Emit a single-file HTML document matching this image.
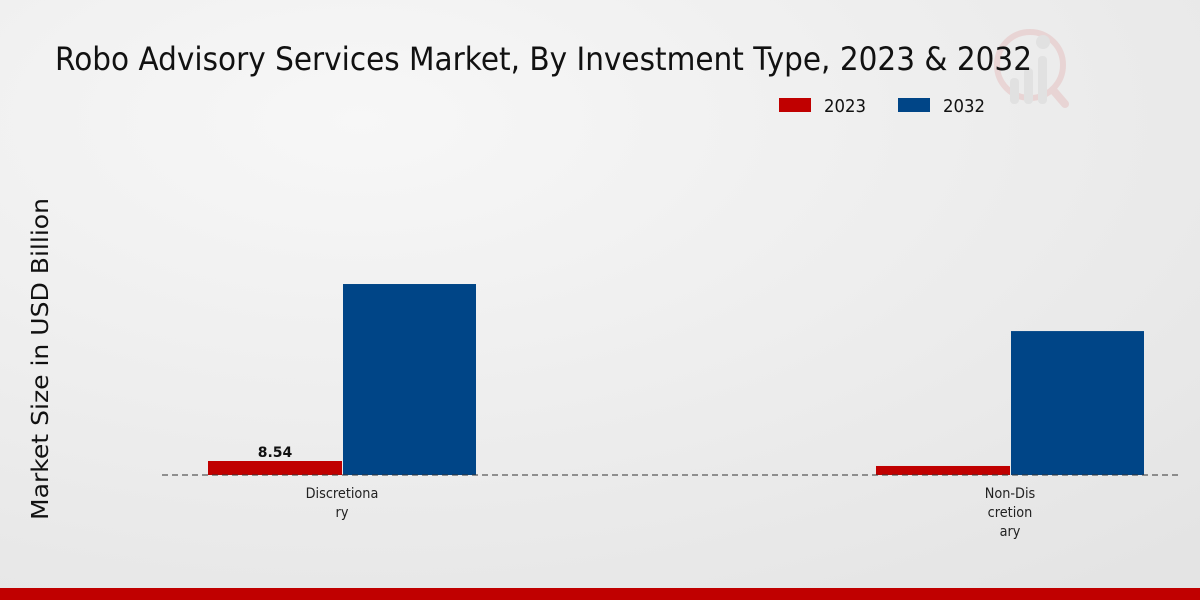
<!DOCTYPE html>
<html><head><meta charset="utf-8"><style>
html,body{margin:0;padding:0;width:1200px;height:600px;overflow:hidden}
svg{display:block;font-family:"DejaVu Sans","Liberation Sans",sans-serif}
</style></head><body>
<svg width="1200" height="600">
<defs><radialGradient id="bg" cx="0.3" cy="0.2" r="1"><stop offset="0" stop-color="#f7f7f7"/><stop offset="1" stop-color="#e4e4e4"/></radialGradient></defs>
<rect width="1200" height="600" fill="url(#bg)"/>
<g opacity="0.3">
<circle cx="1030" cy="65" r="33" fill="none" stroke="#e0a0a0" stroke-width="6"/>
<line x1="1053" y1="90" x2="1065" y2="104" stroke="#e0a0a0" stroke-width="8" stroke-linecap="round"/>
<rect x="1010" y="78" width="9" height="26" rx="4" fill="#c8c8c8"/>
<rect x="1024" y="68" width="9" height="36" rx="4" fill="#c8c8c8"/>
<rect x="1038" y="56" width="9" height="48" rx="4" fill="#c8c8c8"/>
<circle cx="1043" cy="42" r="7" fill="#c8c8c8"/>
</g>
<text x="55" y="70" font-size="32" textLength="977" lengthAdjust="spacingAndGlyphs" fill="#111">Robo Advisory Services Market, By Investment Type, 2023 &amp; 2032</text>
<g>
<rect x="779" y="98" width="32" height="14" fill="#c00000"/>
<text x="824" y="112" font-size="18" textLength="42" lengthAdjust="spacingAndGlyphs" fill="#111">2023</text>
<rect x="898" y="98" width="32" height="14" fill="#004587"/>
<text x="943" y="112" font-size="18" textLength="42" lengthAdjust="spacingAndGlyphs" fill="#111">2032</text>
</g>
<text transform="translate(48,359) rotate(-90)" text-anchor="middle" font-size="23" textLength="322" lengthAdjust="spacingAndGlyphs" fill="#111">Market Size in USD Billion</text>
<g id="plot"></g>
<line x1="162" y1="475" x2="1180" y2="475" stroke="#333" stroke-dasharray="6,4"/>
<rect x="0" y="588" width="1200" height="12" fill="#c00000"/>
</svg>
<script>
const categories=[["Discretiona","ry"],["Non-Dis","cretion","ary"]];
const values2023=[8.54,5.5];
const values2032=[116.5,87.8];
const labels2023=["8.54",""];
const ns="http://www.w3.org/2000/svg";
const g=document.getElementById("plot");
const base=475,scale=14/8.54,cx0=342,step=668,bw=134;
function y(v){return base-v*scale;}
function mk(t,a){const e=document.createElementNS(ns,t);for(const k in a)e.setAttribute(k,a[k]);g.appendChild(e);return e;}
categories.forEach((c,i)=>{
 const cx=cx0+i*step;
 const r1=mk("rect",{x:cx-bw,y:y(values2023[i]),width:bw,height:base-y(values2023[i]),fill:"#c00000"});
 
 
 const r2=mk("rect",{x:cx+1,y:y(values2032[i]),width:bw-1,height:base-y(values2032[i]),fill:"#004587"});
 
 
 if(labels2023[i]){const t=mk("text",{x:cx-bw/2,y:y(values2023[i])-4,"text-anchor":"middle","font-size":"14","font-weight":"bold",fill:"#111"});t.textContent=labels2023[i];
 
 }
 c.forEach((line,j)=>{const t=mk("text",{x:cx,y:498+j*19,"text-anchor":"middle","font-size":"14",fill:"#222",transform:"translate("+cx+",0) scale(0.92,1) translate("+(-cx)+",0)"});t.textContent=line;
 
 });
});
</script>
</body></html>
